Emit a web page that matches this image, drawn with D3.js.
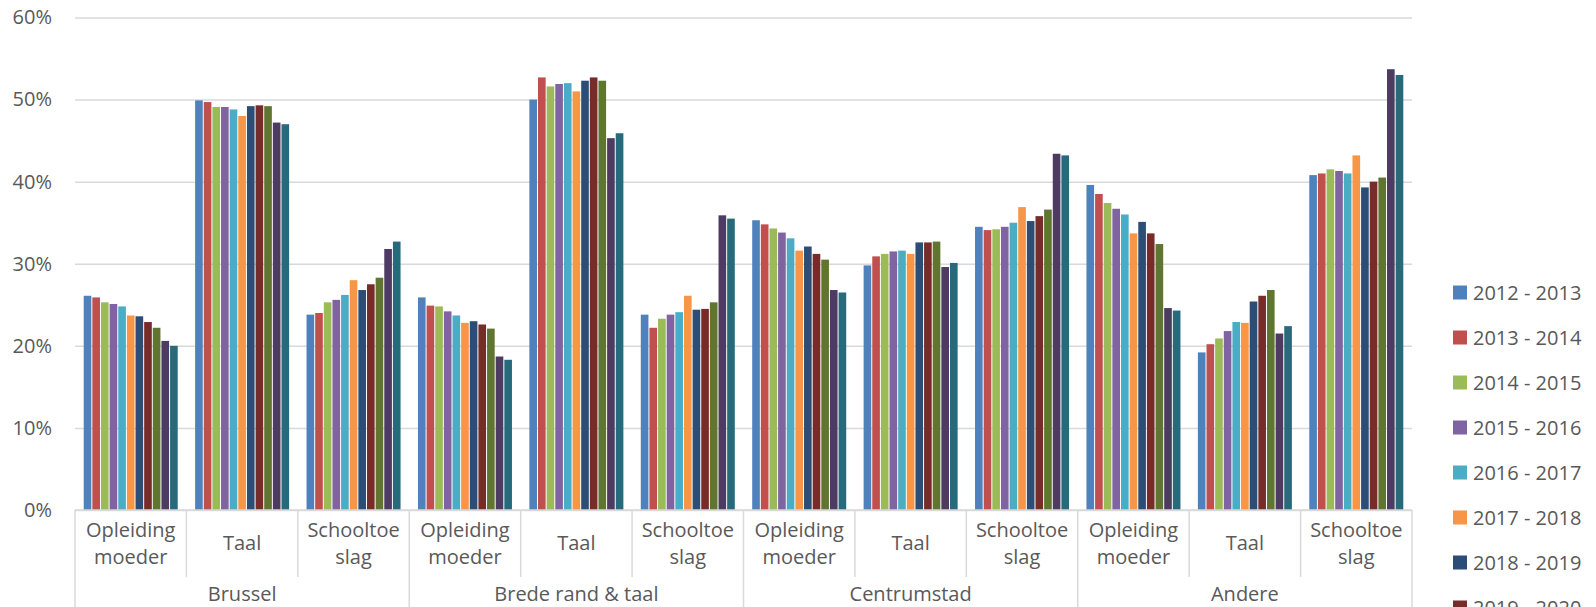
<!DOCTYPE html>
<html>
<head>
<meta charset="utf-8">
<script src="https://cdn.jsdelivr.net/npm/d3@7"></script>
<style>
  body { margin: 0; background: #fff; }
  svg text { font-family: "Open Sans", sans-serif; fill: #595959; }
</style>
</head>
<body>
<script>
"use strict";

// ----------------------------------------
//  Data
// ----------------------------------------
const years = ["2012 - 2013", "2013 - 2014", "2014 - 2015", "2015 - 2016", "2016 - 2017",
               "2017 - 2018", "2018 - 2019", "2019 - 2020", "2020 - 2021", "2021 - 2022", "2022 - 2023"];
const regions = ["Brussel", "Brede rand & taal", "Centrumstad", "Andere"];
const indicators = [["Opleiding", "moeder"], ["Taal"], ["Schooltoe", "slag"]];
const yTicks = [0, 10, 20, 30, 40, 50, 60];

// one row per indicator, one value per school year (in %)
const brussel = [
  [26.1, 25.9, 25.3, 25.1, 24.8, 23.7, 23.6, 22.9, 22.2, 20.6, 20.0],
  [49.9, 49.7, 49.1, 49.1, 48.8, 48.0, 49.2, 49.3, 49.2, 47.2, 47.0],
  [23.8, 24.0, 25.3, 25.6, 26.2, 28.0, 26.8, 27.5, 28.3, 31.8, 32.7]
];
const bredeRand = [
  [25.9, 24.9, 24.8, 24.2, 23.7, 22.8, 23.0, 22.6, 22.1, 18.7, 18.3],
  [50.0, 52.7, 51.6, 51.9, 52.0, 51.0, 52.3, 52.7, 52.3, 45.3, 45.9],
  [23.8, 22.2, 23.3, 23.8, 24.1, 26.1, 24.4, 24.5, 25.3, 35.9, 35.5]
];
const centrumstad = [
  [35.3, 34.8, 34.3, 33.8, 33.1, 31.6, 32.1, 31.2, 30.5, 26.8, 26.5],
  [29.8, 30.9, 31.2, 31.5, 31.6, 31.2, 32.6, 32.6, 32.7, 29.6, 30.1],
  [34.5, 34.1, 34.2, 34.5, 35.0, 36.9, 35.2, 35.8, 36.6, 43.4, 43.2]
];
const andere = [
  [39.6, 38.5, 37.4, 36.7, 36.0, 33.7, 35.1, 33.7, 32.4, 24.6, 24.3],
  [19.2, 20.2, 20.9, 21.8, 22.9, 22.8, 25.4, 26.1, 26.8, 21.5, 22.4],
  [40.8, 41.0, 41.5, 41.3, 41.0, 43.2, 39.3, 40.0, 40.5, 53.7, 53.0]
];
const regionValues = [brussel, bredeRand, centrumstad, andere];

const colors = ["#4F81BD", "#C0504D", "#9BBB59", "#8064A2", "#4BACC6", "#F79646",
                "#2C4D75", "#772C2A", "#5F7530", "#4D3B62", "#276A7C"];

// flat list of the 12 category cells
const cells = [];
regions.forEach(function(r, ri) {
    indicators.forEach(function(ind, ii) {
        cells.push({ key: ri + "-" + ii, region: r, lines: ind, values: regionValues[ri][ii] });
    });
});

// ----------------------------------------
//  Scales
// ----------------------------------------
const W = 1596, H = 607;
const plotLeft = 75, plotRight = 1412, plotTop = 17.5, plotBottom = 510;

const x0 = d3.scaleBand()
    .domain(cells.map(function(d) { return d.key; }))
    .range([plotLeft, plotRight])
    .padding(0);

const x1 = d3.scaleBand()
    .domain(years)
    .range([0, x0.bandwidth()])
    .paddingInner(0)
    .paddingOuter(0.95);

const y = d3.scaleLinear()
    .domain([0, 60])
    .range([plotBottom, plotTop]);

const svg = d3.select("body").append("svg")
    .attr("width", W)
    .attr("height", H);

// ----------------------------------------
//  Grid + y axis
// ----------------------------------------
const yAxis = svg.append("g")
    .attr("transform", "translate(" + plotLeft + ",0)")
    .call(d3.axisLeft(y)
        .tickValues(yTicks)
        .tickSize(-(plotRight - plotLeft))
        .tickPadding(23)
        .tickFormat(function(d) { return d + "%"; }));

yAxis.select(".domain").remove();
yAxis.selectAll(".tick line")
    .attr("stroke", "#D9D9D9")
    .attr("stroke-width", 1.5);
yAxis.selectAll(".tick text")
    .style("font-size", "20px")
    .attr("fill", "#595959");

// ----------------------------------------
//  Bars
// ----------------------------------------
const groups = svg.selectAll(".cell")
    .data(cells)
    .enter()
    .append("g")
    .attr("class", "cell")
    .attr("transform", function(d) { return "translate(" + x0(d.key) + ",0)"; });

groups.selectAll("rect")
    .data(function(d) { return d.values.map(function(v, i) { return { year: years[i], value: v, i: i }; }); })
    .enter()
    .append("rect")
    .attr("x", function(d) { return x1(d.year) + 0.5; })
    .attr("width", x1.bandwidth() - 1)
    .attr("y", function(d) { return y(d.value); })
    .attr("height", function(d) { return plotBottom - y(d.value); })
    .attr("fill", function(d) { return colors[d.i]; });

// ----------------------------------------
//  Category axis (two levels)
// ----------------------------------------
svg.append("line")
    .attr("x1", plotLeft).attr("x2", plotRight)
    .attr("y1", plotBottom).attr("y2", plotBottom)
    .attr("stroke", "#D9D9D9").attr("stroke-width", 1.5);

// separators between indicators / regions
const bounds = cells.map(function(d) { return x0(d.key); }).concat([plotRight]);
svg.selectAll(".sep")
    .data(bounds)
    .enter()
    .append("line")
    .attr("class", "sep")
    .attr("x1", function(d) { return d; })
    .attr("x2", function(d) { return d; })
    .attr("y1", plotBottom)
    .attr("y2", function(d, i) { return i % 3 === 0 ? H : 577; })
    .attr("stroke", "#D9D9D9")
    .attr("stroke-width", 1.5);

// indicator labels
const lab = svg.selectAll(".catlab")
    .data(cells)
    .enter()
    .append("text")
    .attr("class", "catlab")
    .attr("text-anchor", "middle")
    .style("font-size", "20px")
    .attr("transform", function(d) { return "translate(" + (x0(d.key) + x0.bandwidth() / 2) + ",0)"; });

lab.selectAll("tspan")
    .data(function(d) { return d.lines.map(function(t) { return { t: t, n: d.lines.length }; }); })
    .enter()
    .append("tspan")
    .attr("x", 0)
    .attr("y", function(d, i) { return d.n === 1 ? 550 : 537 + i * 27; })
    .text(function(d) { return d.t; });

// region labels
svg.selectAll(".reglab")
    .data(regions)
    .enter()
    .append("text")
    .attr("class", "reglab")
    .attr("text-anchor", "middle")
    .style("font-size", "20px")
    .attr("x", function(d, i) { return (bounds[i * 3] + bounds[i * 3 + 3]) / 2; })
    .attr("y", 601)
    .text(function(d) { return d; });

// ----------------------------------------
//  Legend
// ----------------------------------------
const legend = svg.selectAll(".leg")
    .data(years)
    .enter()
    .append("g")
    .attr("class", "leg")
    .attr("transform", function(d, i) { return "translate(1453," + (292.5 + i * 45) + ")"; });

legend.append("rect")
    .attr("x", 0).attr("y", -7)
    .attr("width", 14).attr("height", 14)
    .attr("fill", function(d, i) { return colors[i]; });

legend.append("text")
    .attr("x", 20)
    .attr("dy", "0.35em")
    .style("font-size", "20px")
    .text(function(d) { return d; });
</script>
</body>
</html>
